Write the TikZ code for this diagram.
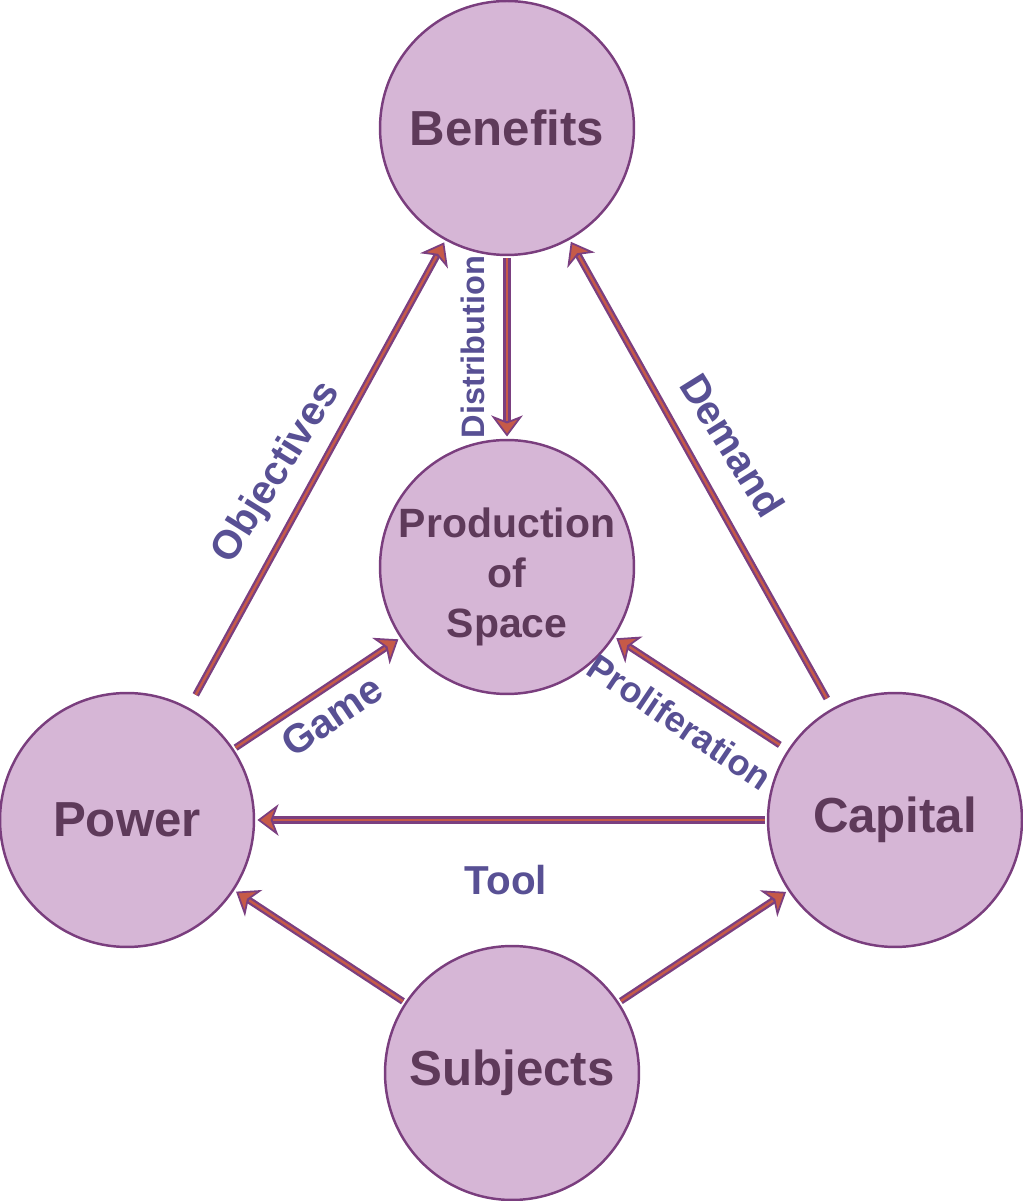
\documentclass[tikz,border=0pt]{standalone}
\usepackage{fontspec}
\setmainfont{Liberation Sans}
\usetikzlibrary{arrows.meta}

\definecolor{circfill}{HTML}{D6B6D6}
\definecolor{circline}{HTML}{7A3E7E}
\definecolor{nodetext}{HTML}{5E3A5A}
\definecolor{labelblue}{HTML}{585094}
\definecolor{edgepurple}{HTML}{7B3F80}
\definecolor{edgeorange}{HTML}{C65A48}

\begin{document}
\begin{tikzpicture}[line cap=round,line join=round,x=0.02cm,y=0.02cm,
	concept/.style={circle, draw=circline, line width=1.4pt, fill=circfill, minimum size=5.08cm, inner sep=0pt, outer sep=2pt, text=nodetext, align=center, font=\bfseries\fontsize{28}{33}\selectfont},
	small/.style={text=nodetext, align=center, font=\bfseries\fontsize{23.3}{28.5}\selectfont},
	lbl/.style={text=labelblue, font=\bfseries\fontsize{23}{27}\selectfont, inner sep=0pt},
	rel/.style={draw=edgepurple, line width=4pt, line cap=butt, -{Stealth[length=12pt, width=18pt, inset=3.5pt, line width=1pt, fill=edgeorange]}, postaction={draw=edgeorange, line width=1.4pt, -, shorten >=9pt}}]
			\useasboundingbox (0,0) rectangle (1022,1201);
			% circles
			\node[concept] (ben) at (507,1073) {Benefits};
			\node[concept] (prod) at (507,634) {};
			\node[small] (prodtext) at ([yshift=-5.5pt]prod.center) {Production\\of\\Space};
			\node[concept] (pow) at (127,381) {Power};
			\node[concept] (cap) at (895,381) {Capital};
			\node[concept] (subj) at (512,128) {\raisebox{-3pt}{Subjects}};
			% relations
			\draw[rel, shorten <=7pt] (pow) -- (ben);
			\draw[rel] (ben) -- (prod);
			\draw[rel, shorten <=5pt] (cap) -- (ben);
			\draw[rel, shorten <=4pt] (cap) -- (prod);
			\draw[rel] (pow) -- (prod);
			\draw[rel] (cap) -- (pow);
			\draw[rel] (subj) -- (pow);
			\draw[rel] (subj) -- (cap);
			% labels
			\node[lbl, rotate=58] (objectives) at (277,728) {Objectives};
			\node[lbl, rotate=90, font=\bfseries\fontsize{18.5}{22}\selectfont] (distribution) at (473,854) {Distribution};
			\node[lbl, rotate=-58] (demand) at (733,756) {Demand};
			\node[lbl, rotate=-34, font=\bfseries\fontsize{20.5}{24}\selectfont] (proliferation) at (680,479) {Proliferation};
			\node[lbl, rotate=34] (game) at (332,485) {Game};
			\node[lbl] (tool) at (506,321) {Tool};
\end{tikzpicture}
\end{document}
